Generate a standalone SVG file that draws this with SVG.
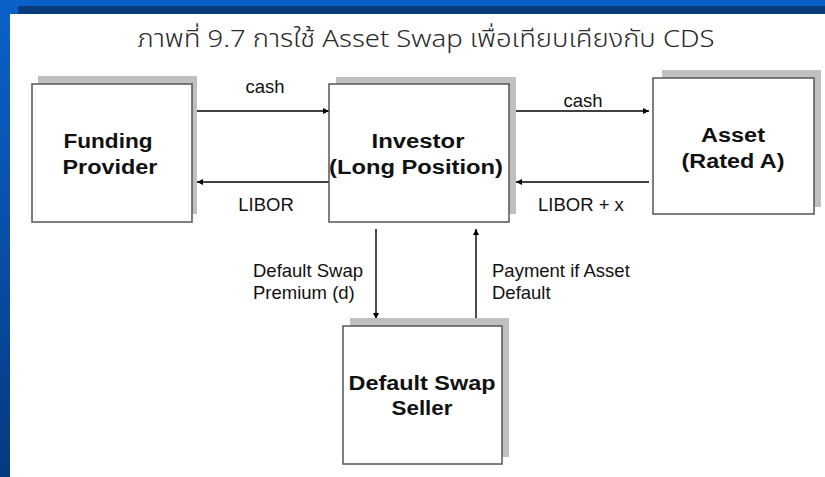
<svg xmlns="http://www.w3.org/2000/svg" width="825" height="477" viewBox="0 0 825 477">
<defs>
<linearGradient id="side" x1="0" y1="0" x2="0" y2="1">
<stop offset="0" stop-color="#0a62c8"/>
<stop offset="0.5" stop-color="#0a4fa8"/>
<stop offset="1" stop-color="#053a80"/>
</linearGradient>
<marker id="ah" viewBox="0 0 10 10" refX="10" refY="5" markerWidth="7" markerHeight="6" markerUnits="userSpaceOnUse" orient="auto">
<path d="M0,0 L10,5 L0,10 z" fill="#000"/>
</marker>
<style>
.shadow{fill:#c0c0c0}
.box{fill:#fff;stroke:#555;stroke-width:1.5}
.lbl{font-family:"Liberation Sans",Arial,sans-serif;font-weight:bold;font-size:20px;fill:#111;text-anchor:middle}
.sm{font-family:"Liberation Sans",Arial,sans-serif;font-size:18.5px;fill:#111}
.conn{stroke:#000;stroke-width:1.4;fill:none;marker-end:url(#ah)}
.title{font-family:"Noto Sans Thai","Noto Sans Thai UI","Noto Sans","DejaVu Sans",sans-serif;font-size:24px;font-weight:300;fill:#2a2a2a;text-anchor:middle}
</style>
</defs>
<rect width="825" height="477" fill="#fff"/>
<rect x="0" y="0" width="10" height="477" fill="url(#side)"/>
<rect x="0" y="0" width="825" height="6" fill="#0a62c8"/>
<rect x="10" y="6" width="8" height="8" fill="#0a62c8"/>
<rect x="18" y="6" width="807" height="8" fill="#073c7c"/>
<text class="title" x="426" y="47" textLength="577" lengthAdjust="spacingAndGlyphs">ภาพที่ 9.7 การใช้ Asset Swap เพื่อเทียบเคียงกับ CDS</text>

<g id="connectors">
<line class="conn" x1="197" y1="111" x2="329" y2="111"/>
<line class="conn" x1="329" y1="182" x2="197" y2="182"/>
<line class="conn" x1="516" y1="111" x2="649" y2="111"/>
<line class="conn" x1="649" y1="182" x2="516" y2="182"/>
<line class="conn" x1="376" y1="229" x2="376" y2="319"/>
<line class="conn" x1="476" y1="319" x2="476" y2="229"/>
<text class="sm" x="265" y="93" text-anchor="middle">cash</text>
<text class="sm" x="266" y="211" text-anchor="middle">LIBOR</text>
<text class="sm" x="583" y="107" text-anchor="middle">cash</text>
<text class="sm" x="538" y="211">LIBOR + x</text>
<text class="sm" x="253" y="277">Default Swap</text>
<text class="sm" x="253" y="299">Premium (d)</text>
<text class="sm" x="492" y="277">Payment if Asset</text>
<text class="sm" x="492" y="299">Default</text>
</g>

<g id="funding-provider">
<rect class="shadow" x="38" y="76" width="159" height="138"/>
<rect class="box" x="32" y="84" width="160" height="138"/>
<text class="lbl" x="108" y="148" textLength="89" lengthAdjust="spacingAndGlyphs">Funding</text>
<text class="lbl" x="110" y="174" textLength="95" lengthAdjust="spacingAndGlyphs">Provider</text>
</g>

<g id="investor">
<rect class="shadow" x="336" y="77" width="180" height="137"/>
<rect class="box" x="329" y="84" width="180" height="138"/>
<text class="lbl" x="418" y="148" textLength="93" lengthAdjust="spacingAndGlyphs">Investor</text>
<text class="lbl" x="416" y="174" textLength="174" lengthAdjust="spacingAndGlyphs">(Long Position)</text>
</g>

<g id="asset">
<rect class="shadow" x="662" y="70" width="159" height="137"/>
<rect class="box" x="653" y="78" width="161" height="136"/>
<text class="lbl" x="733" y="142" textLength="64" lengthAdjust="spacingAndGlyphs">Asset</text>
<text class="lbl" x="733" y="168" textLength="103" lengthAdjust="spacingAndGlyphs">(Rated A)</text>
</g>

<g id="default-swap-seller">
<rect class="shadow" x="350" y="318" width="159" height="139"/>
<rect class="box" x="343" y="326" width="159" height="138"/>
<text class="lbl" x="422" y="390" textLength="147" lengthAdjust="spacingAndGlyphs">Default Swap</text>
<text class="lbl" x="422" y="415" textLength="61" lengthAdjust="spacingAndGlyphs">Seller</text>
</g>
</svg>
